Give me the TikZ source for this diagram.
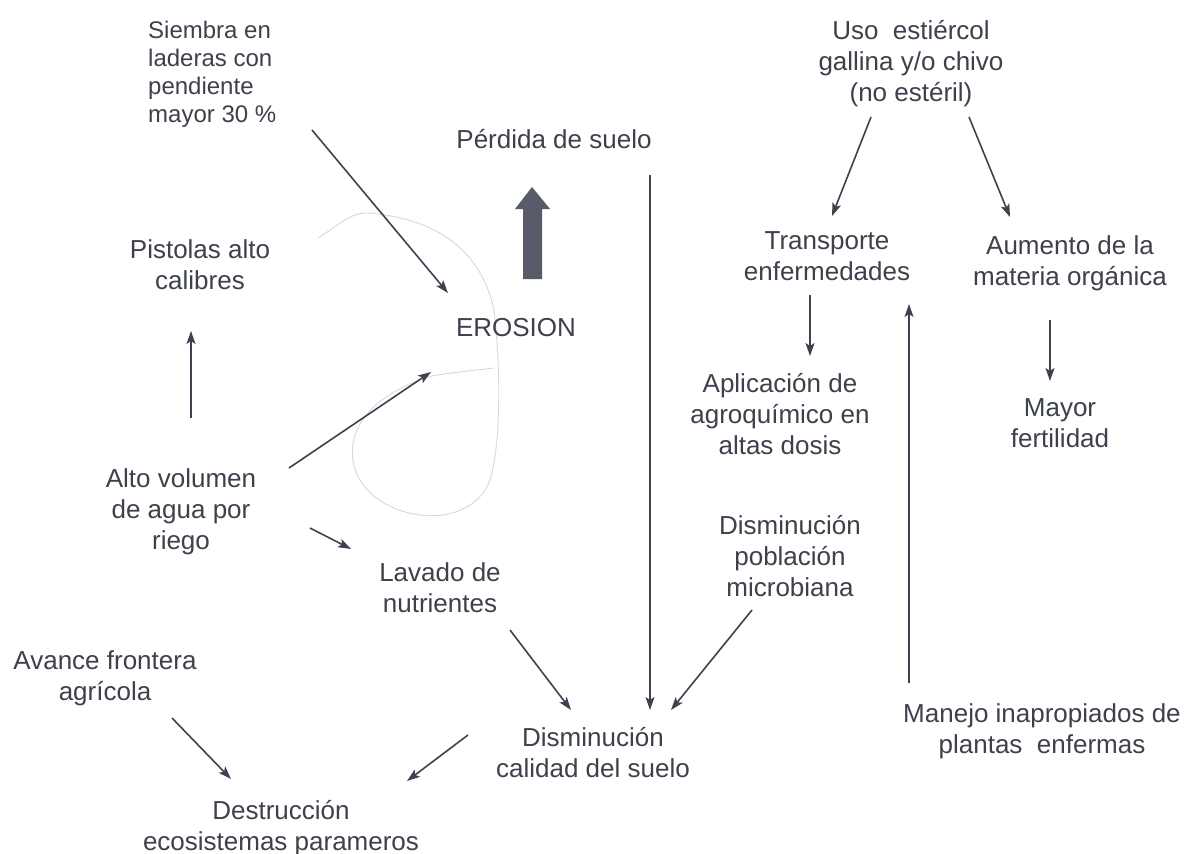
\documentclass[tikz,border=0pt]{standalone}
\usepackage{fontspec}
\setmainfont{Liberation Sans}
\usetikzlibrary{arrows.meta}
\definecolor{ink}{HTML}{3D414C}
\definecolor{arrowink}{HTML}{3E4250}
\definecolor{bigarrow}{HTML}{585C6A}
\definecolor{faint}{HTML}{D6D8DC}
\begin{document}
\begin{tikzpicture}[x=1pt,y=-1pt,
  lbl/.style={inner sep=0pt,align=center,text=ink,font=\fontsize{26}{31}\selectfont},
  conn/.style={draw=arrowink,line width=1.6pt,-{Stealth[length=13pt,width=9pt,inset=3pt]}}]
\useasboundingbox[fill=white] (0,0) rectangle (1187,854);

% faint hand-drawn loop
\draw[faint,line width=0.9pt] (318,238) .. controls (335,228) and (350,212) .. (368,213)
  .. controls (430,218) and (480,245) .. (494,310)
  .. controls (500,360) and (502,440) .. (490,480)
  .. controls (478,512) and (440,522) .. (405,512)
  .. controls (365,500) and (345,470) .. (355,435)
  .. controls (365,405) and (400,385) .. (432,376)
  .. controls (455,372) and (478,370) .. (494,368);

% nodes
\node[lbl,align=left,anchor=west,font=\fontsize{24}{28}\selectfont] (siembra) at (148,74) {Siembra en\\laderas con\\pendiente\\mayor 30 \%};
\node[lbl] (pistolas) at (200,265) {Pistolas alto\\calibres};
\node[lbl] (perdida) at (554,139) {Pérdida de suelo};
\node[lbl] (erosion) at (516,328) {EROSION};
\node[lbl] (alto) at (181,512) {Alto volumen\\de agua por\\riego};
\node[lbl] (lavado) at (440,588) {Lavado de\\nutrientes};
\node[lbl] (avance) at (105,678) {Avance frontera\\agrícola};
\node[lbl] (destruccion) at (281,828) {Destrucción\\ecosistemas parameros};
\node[lbl] (dcalidad) at (593,753) {Disminución\\calidad del suelo};
\node[lbl] (dpoblacion) at (790,556) {Disminución\\población\\microbiana};
\node[lbl] (uso) at (911,64) {Uso~ estiércol\\gallina y/o chivo\\(no estéril)};
\node[lbl] (transporte) at (827,256) {Transporte\\enfermedades};
\node[lbl] (aumento) at (1070,263) {Aumento de la\\materia orgánica};
\node[lbl] (aplicacion) at (780,414) {Aplicación de\\agroquímico en\\altas dosis};
\node[lbl] (mayor) at (1060,423) {Mayor\\fertilidad};
\node[lbl] (manejo) at (1042,731) {Manejo inapropiados de\\plantas~ enfermas};

% connector end points
\coordinate (a1s) at (312,130); \coordinate (a1e) at (448,293);
\coordinate (a2s) at (289,468); \coordinate (a2e) at (431,372);
\coordinate (a3s) at (191,418); \coordinate (a3e) at (191,331);
\coordinate (a4s) at (310,528); \coordinate (a4e) at (351,549);
\coordinate (a5s) at (510,630); \coordinate (a5e) at (571,710);
\coordinate (a6s) at (650,175); \coordinate (a6e) at (650,710);
\coordinate (a7s) at (752,610); \coordinate (a7e) at (671,710);
\coordinate (a8s) at (468,735); \coordinate (a8e) at (407,781);
\coordinate (a9s) at (172,718); \coordinate (a9e) at (231,779);
\coordinate (a10s) at (871,117); \coordinate (a10e) at (832,216);
\coordinate (a11s) at (969,117); \coordinate (a11e) at (1010,217);
\coordinate (a12s) at (810,295); \coordinate (a12e) at (810,356);
\coordinate (a13s) at (909,683); \coordinate (a13e) at (909,304);
\coordinate (a14s) at (1050,320); \coordinate (a14e) at (1050,381);

% connectors
\draw[conn] (a1s) -- (a1e);   % siembra -> erosion
\draw[conn] (a2s) -- (a2e);   % alto -> erosion
\draw[conn] (a3s) -- (a3e);   % alto -> pistolas
\draw[conn] (a4s) -- (a4e);   % alto -> lavado
\draw[conn] (a5s) -- (a5e);   % lavado -> dcalidad
\draw[conn] (a6s) -- (a6e);   % perdida -> dcalidad
\draw[conn] (a7s) -- (a7e);   % dpoblacion -> dcalidad
\draw[conn] (a8s) -- (a8e);   % dcalidad -> destruccion
\draw[conn] (a9s) -- (a9e);   % avance -> destruccion
\draw[conn] (a10s) -- (a10e); % uso -> transporte
\draw[conn] (a11s) -- (a11e); % uso -> aumento
\draw[conn] (a12s) -- (a12e); % transporte -> aplicacion
\draw[conn] (a13s) -- (a13e); % manejo -> transporte
\draw[conn] (a14s) -- (a14e); % aumento -> mayor

% thick block arrow (erosion -> perdida de suelo)
\fill[bigarrow] (523,279) -- (523,209) -- (515,209) -- (532,187) -- (550,209) -- (542,209) -- (542,279) -- cycle;
\end{tikzpicture}
\end{document}
